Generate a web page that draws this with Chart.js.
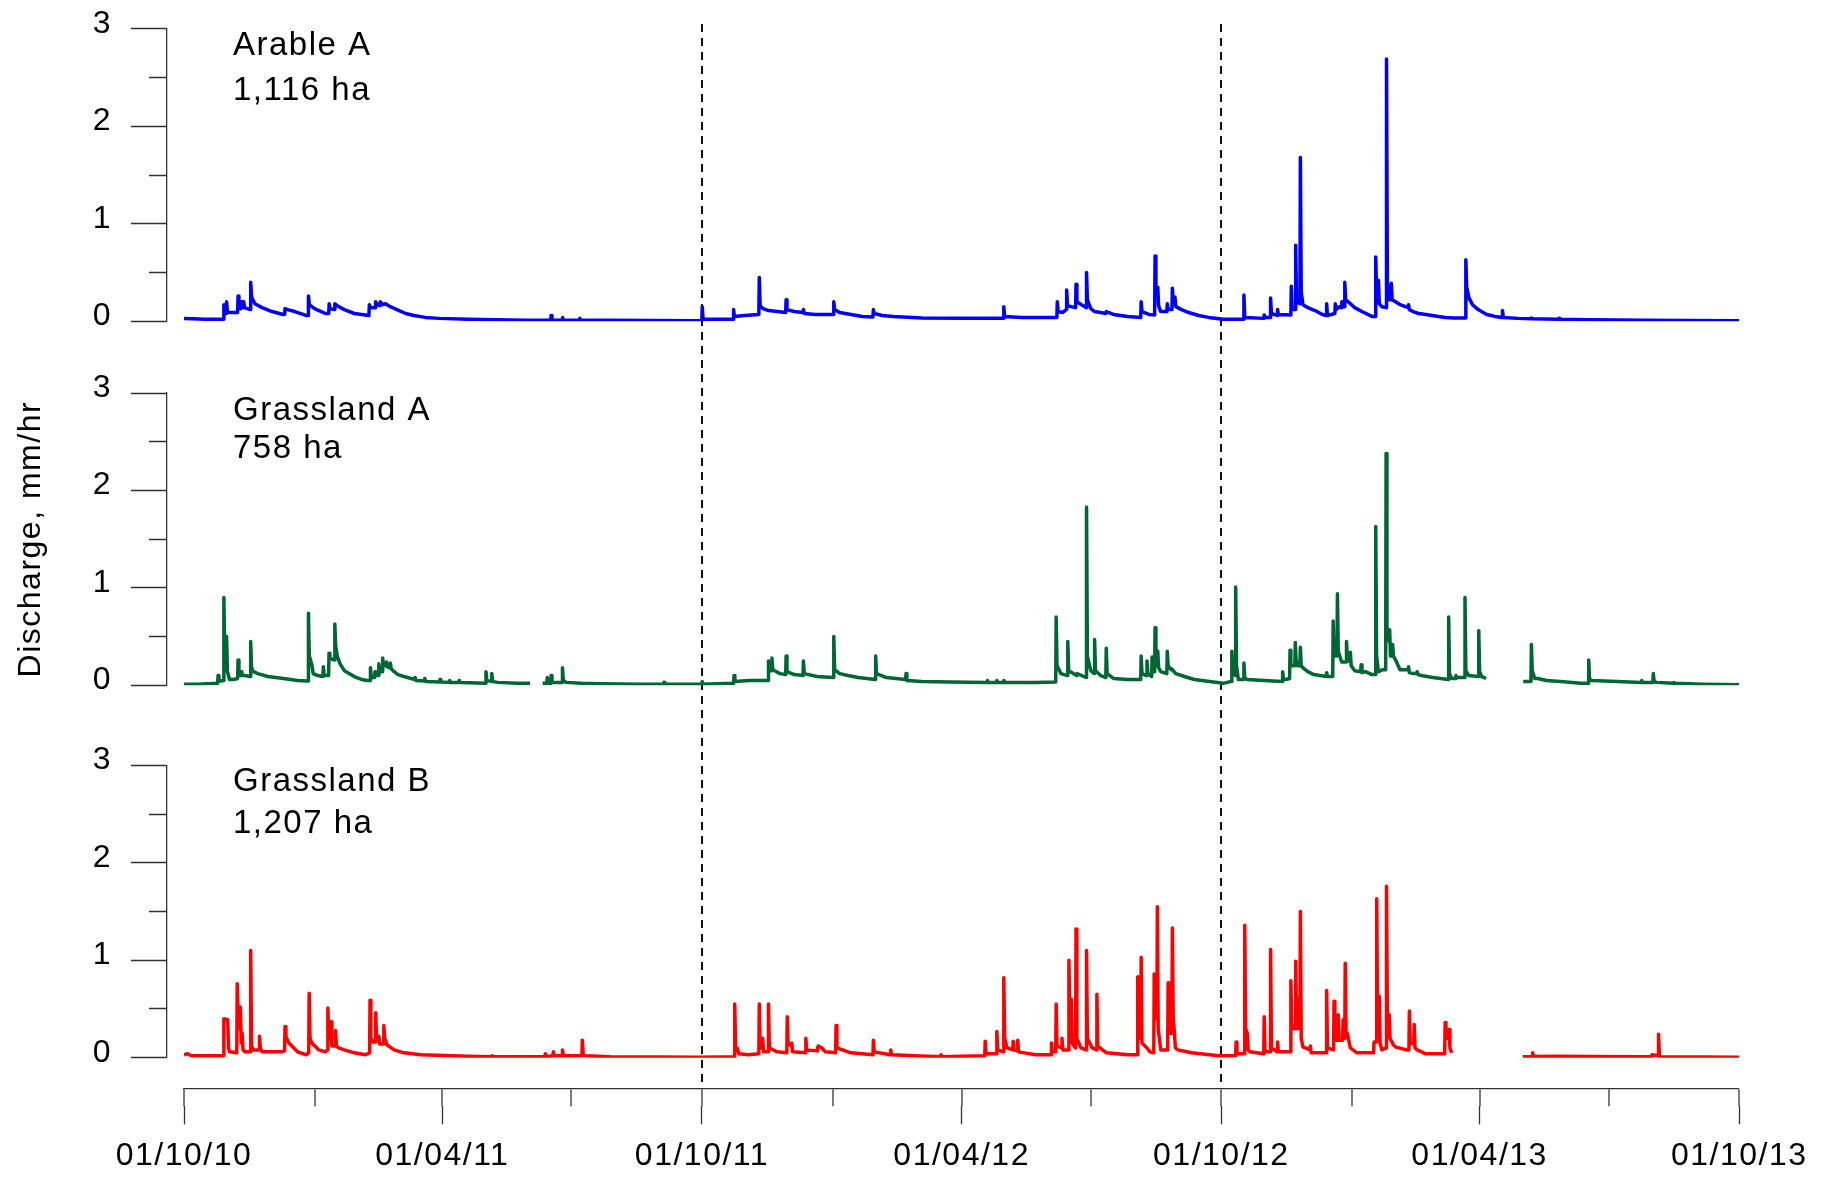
<!DOCTYPE html>
<html lang="en">
<head>
<meta charset="UTF-8">
<title>Catchment discharge 2010-2013</title>
<script src="https://cdn.jsdelivr.net/npm/chart.js"></script>
<style>
  html, body { margin: 0; padding: 0; background: #fff; }
  #wrap { position: relative; width: 1826px; height: 1178px; }
</style>
</head>
<body>
<div id="wrap"><canvas id="dischargeChart"></canvas></div>
<script>
// x values are days since 01/10/10 (start of the first hydrological year)
const tickDates = ['2010-10-01', '2011-01-01', '2011-04-01', '2011-07-01', '2011-10-01', '2012-01-01',
  '2012-04-01', '2012-07-01', '2012-10-01', '2013-01-01', '2013-04-01', '2013-07-01', '2013-10-01'];
const tickLabels = ['01/10/10', '', '01/04/11', '', '01/10/11', '', '01/04/12', '', '01/10/12', '', '01/04/13', '', '01/10/13'];
const yearBreaks = ['2011-10-01', '2012-10-01'];
const yTicks = [0, 0.5, 1, 1.5, 2, 2.5, 3];

const siteNames = ['Arable A', 'Grassland A', 'Grassland B'];
const siteAreas = ['1,116 ha', '758 ha', '1,207 ha'];

// [day, discharge mm/hr]; null marks a gap in the record
const arableA = [
  [0,0.03],[6,0.025],[15,0.02],[27.8,0.02],[28.1,0.17],[28.6,0.08],[29.7,0.08],[30,0.2],[30.6,0.1],[32.1,0.09],
  [37.8,0.09],[38.1,0.26],[38.7,0.14],[39.9,0.13],[40.2,0.2],[40.8,0.15],[41.8,0.14],[42.1,0.2],[42.7,0.14],
  [46.7,0.12],[47,0.4],[47.6,0.25],[50,0.18],[55,0.14],[62,0.1],[69.9,0.07],[70.9,0.07],[71.2,0.13],[73,0.12],
  [78,0.1],[86,0.06],[87.4,0.06],[87.7,0.26],[88.3,0.17],[92,0.13],[99.6,0.08],[102,0.08],[102.3,0.18],
  [103,0.13],[106,0.12],[106.3,0.18],[108,0.16],[113,0.12],[120,0.08],[130.3,0.06],[130.6,0.17],[131.5,0.14],
  [134.8,0.14],[135,0.2],[136,0.17],[138,0.16],[138.3,0.2],[140,0.17],[142,0.18],[145.4,0.15],[150,0.12],
  [156.2,0.08],[162,0.06],[170,0.04],[180,0.03],[200,0.02],[220,0.015],[240,0.012],[258.5,0.01],[258.7,0.06],
  [259.3,0.01],[266.6,0.01],[266.8,0.04],[267.4,0.01],[278.7,0.01],[278.9,0.03],[279.5,0.01],[300,0.01],
  [330,0.008],[364.9,0.005],[365.2,0.15],[365.8,0.02],[387,0.02],[387.3,0.12],[387.9,0.05],[395,0.06],
  [405.1,0.07],[405.4,0.45],[406,0.16],[408,0.13],[412,0.11],[418,0.1],[424,0.09],[424.3,0.22],[424.9,0.12],
  [430,0.1],[436.2,0.09],[436.5,0.12],[437.1,0.08],[445,0.07],[457.6,0.07],[457.9,0.2],[458.5,0.12],[462,0.09],
  [470,0.07],[478,0.05],[485.5,0.045],[485.8,0.12],[486.4,0.08],[492,0.06],[500,0.05],[520,0.035],[550,0.03],
  [577.4,0.03],[577.7,0.15],[578.3,0.05],[590,0.04],[615.1,0.04],[615.4,0.2],[616,0.1],[619,0.09],[621.7,0.12],
  [622,0.32],[622.6,0.16],[628.3,0.14],[628.6,0.38],[629.2,0.2],[635.7,0.14],[636,0.5],[636.6,0.22],[639,0.13],
  [641.7,0.1],[646,0.09],[649.6,0.08],[649.9,0.1],[655,0.07],[665,0.05],[674.2,0.04],[674.5,0.2],[675.1,0.1],
  [680,0.07],[684,0.065],[684.3,0.67],[684.9,0.3],[686,0.3],[686.2,0.35],[686.8,0.16],[688.3,0.1],[692.6,0.1],
  [692.9,0.18],[693.5,0.12],[696.2,0.12],[696.5,0.34],[697.1,0.2],[698,0.2],[698.3,0.25],[698.9,0.15],
  [703,0.12],[708,0.09],[715,0.06],[722,0.04],[732.3,0.02],[746.6,0.02],[746.9,0.27],[747.5,0.04],[761,0.03],
  [761.2,0.065],[762,0.04],[765.4,0.04],[765.7,0.24],[766.3,0.08],[770.3,0.06],[770.6,0.12],[771.2,0.07],
  [780,0.065],[780.3,0.36],[780.9,0.12],[783.1,0.12],[783.4,0.78],[784,0.2],[786.4,0.18],[786.7,1.68],
  [787.3,0.3],[788.5,0.17],[792,0.14],[797,0.11],[802.2,0.07],[804.9,0.06],[805.2,0.18],[805.8,0.06],
  [811,0.08],[811.3,0.18],[812,0.12],[814,0.15],[815.6,0.14],[815.9,0.2],[816.5,0.15],[817.7,0.15],[818,0.4],
  [818.6,0.22],[820.4,0.2],[825,0.14],[830,0.1],[837.1,0.05],[839.5,0.05],[839.8,0.66],[840.4,0.3],
  [841.4,0.2],[841.7,0.42],[842.3,0.18],[844.1,0.15],[847.1,0.14],[847.4,2.69],[848,0.4],[849.3,0.22],
  [850.5,0.22],[850.8,0.39],[851.4,0.22],[853.8,0.2],[857,0.17],[862.6,0.14],[862.9,0.17],[863.5,0.12],
  [866,0.1],[870,0.08],[875,0.07],[888.7,0.04],[895,0.035],[903,0.035],[903.3,0.63],[903.9,0.35],[905.5,0.24],
  [908,0.17],[912,0.12],[918,0.07],[923.7,0.05],[928.8,0.04],[929.1,0.11],[929.7,0.04],[940,0.03],
  [949.3,0.025],[949.5,0.035],[950,0.025],[968.8,0.02],[969,0.03],[969.5,0.02],[990,0.015],[1030,0.01],
  [1060,0.008],[1096,0.005]
];

const grasslandA = [
  [0,0.01],[10,0.012],[23.7,0.02],[24,0.1],[24.6,0.04],[27.8,0.05],[28.1,0.9],[28.7,0.3],[29.7,0.3],[30,0.5],
  [30.6,0.14],[32.1,0.06],[35,0.06],[37.8,0.07],[38.1,0.26],[38.7,0.12],[39.9,0.1],[40.2,0.14],[40.8,0.1],
  [42.9,0.1],[46.7,0.09],[47,0.45],[47.6,0.18],[48.9,0.14],[52,0.12],[59.1,0.09],[70,0.07],[80,0.05],
  [87.4,0.045],[87.7,0.74],[88.3,0.3],[90.1,0.21],[91,0.12],[94.2,0.1],[97.9,0.09],[98.2,0.19],[98.8,0.1],
  [101.9,0.1],[102.2,0.33],[102.8,0.28],[104,0.27],[106,0.26],[106.3,0.63],[106.9,0.4],[108,0.3],[110,0.22],
  [113,0.15],[120,0.09],[125,0.06],[129.2,0.05],[131.1,0.05],[131.4,0.18],[132,0.08],[134.3,0.08],[134.6,0.14],
  [135.2,0.1],[137,0.1],[137.3,0.22],[137.9,0.14],[139.7,0.14],[140,0.28],[140.6,0.2],[142.4,0.2],[142.7,0.24],
  [143.3,0.19],[145.1,0.18],[145.4,0.23],[146,0.17],[148.1,0.14],[150.8,0.11],[155,0.09],[162.6,0.06],
  [162.9,0.08],[163.5,0.05],[169.4,0.045],[169.7,0.07],[170.3,0.04],[180.1,0.035],[180.4,0.06],[181,0.035],
  [186.9,0.03],[187.2,0.05],[187.8,0.03],[193.7,0.03],[194,0.05],[194.6,0.03],[212.5,0.02],[212.8,0.14],
  [213.4,0.05],[216.6,0.04],[216.9,0.12],[217.5,0.04],[220.9,0.03],[235,0.02],[243.8,0.02],[248,null],
  [252.7,0.02],[255.7,0.02],[256,0.08],[256.6,0.02],[258.4,0.02],[258.7,0.1],[259.3,0.03],[266.4,0.03],
  [266.7,0.18],[267.3,0.05],[269.4,0.03],[280,0.02],[293,0.015],[320,0.012],[338,0.012],[338.3,0.03],
  [338.9,0.01],[364.9,0.01],[365.2,0.04],[365.8,0.01],[387.3,0.02],[387.6,0.1],[388.2,0.04],[398,0.05],
  [411.6,0.05],[411.9,0.25],[412.5,0.15],[414,0.15],[414.3,0.28],[414.9,0.16],[420,0.12],[424,0.11],
  [424.3,0.3],[424.9,0.14],[430,0.11],[436.2,0.1],[436.5,0.25],[437.1,0.12],[446,0.09],[457.6,0.08],
  [457.9,0.5],[458.5,0.16],[462,0.12],[468,0.1],[475,0.08],[487.1,0.06],[487.4,0.3],[488,0.12],[495,0.08],
  [508.5,0.06],[508.8,0.12],[509.4,0.05],[520,0.04],[540,0.035],[566,0.03],[566.2,0.05],[566.8,0.03],
  [572.6,0.03],[572.8,0.05],[573.4,0.03],[577.5,0.03],[577.7,0.05],[578.3,0.03],[600,0.03],[614.3,0.035],
  [614.6,0.7],[615.2,0.2],[618,0.12],[622.5,0.1],[622.8,0.45],[623.4,0.15],[629.1,0.1],[629.4,0.12],
  [635.7,0.08],[636,1.83],[636.6,0.3],[639,0.15],[641.4,0.12],[641.7,0.47],[642.3,0.15],[646,0.1],
  [649.6,0.08],[649.9,0.38],[650.5,0.12],[655,0.07],[665,0.06],[674.2,0.06],[674.5,0.3],[675.1,0.12],
  [678.3,0.1],[678.6,0.25],[679.2,0.12],[681.9,0.09],[682.2,0.29],[682.8,0.15],[684,0.14],[684.3,0.59],
  [684.9,0.2],[685.9,0.2],[686.2,0.35],[686.8,0.18],[688.3,0.14],[692.6,0.12],[692.9,0.35],[693.5,0.2],
  [695.6,0.16],[695.9,0.17],[698.9,0.12],[705,0.09],[712,0.06],[720,0.045],[732.3,0.02],[738.1,0.04],
  [738.4,0.35],[739,0.15],[740.8,0.1],[741.1,1.01],[741.7,0.2],[743,0.06],[746.6,0.06],[746.9,0.23],
  [747.5,0.08],[749,0.06],[761.2,0.05],[773.9,0.04],[774.2,0.14],[774.8,0.06],[776.4,0.06],[779.1,0.07],
  [779.4,0.36],[780,0.2],[782.8,0.2],[783.1,0.44],[783.7,0.25],[784.6,0.2],[784.9,0.24],[786.4,0.2],
  [786.7,0.39],[787.3,0.2],[788.5,0.18],[792,0.14],[796.1,0.11],[805,0.09],[805.2,0.13],[805.8,0.09],
  [809.5,0.09],[809.8,0.66],[810.4,0.3],[812.5,0.3],[812.8,0.94],[813.4,0.35],[815.8,0.24],[818.9,0.24],
  [819.2,0.45],[819.8,0.25],[821.6,0.25],[821.9,0.34],[822.5,0.2],[825,0.15],[829.2,0.14],[829.5,0.21],
  [830.1,0.13],[832.6,0.14],[837.1,0.11],[839.5,0.11],[839.8,1.63],[840.4,0.3],[841.7,0.14],[844.7,0.16],
  [846.8,0.16],[847.1,2.38],[847.7,0.6],[849.3,0.45],[849.6,0.57],[850.2,0.3],[851.4,0.3],[851.7,0.42],
  [852.3,0.3],[853.8,0.26],[856.9,0.16],[862.6,0.16],[862.9,0.19],[863.5,0.13],[866,0.12],[868.7,0.12],
  [869,0.14],[869.6,0.11],[872,0.1],[880,0.08],[890.9,0.06],[891.2,0.7],[891.8,0.12],[893.3,0.07],[896,0.07],
  [896.3,0.1],[896.9,0.08],[902.4,0.08],[902.7,0.9],[903.3,0.15],[905.4,0.1],[912.1,0.09],[912.4,0.56],
  [913,0.14],[914.5,0.09],[917.6,0.07],[930,null],[943.7,0.04],[949.2,0.04],[949.5,0.42],[950.1,0.15],
  [951.9,0.07],[954,0.07],[960,0.05],[970,0.04],[984.4,0.02],[989.6,0.02],[989.9,0.26],[990.5,0.06],
  [992,0.05],[1010,0.04],[1026.9,0.03],[1027.2,0.05],[1027.8,0.03],[1035.1,0.03],[1035.4,0.12],[1036,0.04],
  [1037.5,0.03],[1049.7,0.02],[1049.9,0.03],[1050.5,0.02],[1070,0.01],[1096,0.005]
];

const grasslandB = [
  [0,0.03],[2.5,0.04],[5.2,0.02],[27.8,0.02],[28.1,0.4],[30.8,0.39],[31.4,0.1],[32.1,0.06],[37.2,0.05],
  [37.5,0.76],[38.1,0.45],[39.4,0.3],[39.7,0.52],[40.3,0.15],[40.7,0.15],[41,0.25],[41.6,0.08],[42.9,0.06],
  [46.7,0.06],[47,1.1],[47.6,0.12],[48.9,0.08],[52.9,0.08],[53.2,0.22],[53.8,0.1],[55.1,0.06],[68.5,0.06],
  [70.9,0.07],[71.2,0.32],[71.8,0.22],[73.9,0.15],[80,0.06],[86.1,0.03],[87.9,0.05],[88.2,0.66],[88.8,0.2],
  [90.1,0.15],[95,0.08],[99.5,0.06],[101.1,0.08],[101.4,0.51],[102,0.2],[103.3,0.2],[103.6,0.37],[104.2,0.12],
  [106.5,0.12],[106.8,0.28],[107.4,0.12],[109,0.1],[113,0.08],[120,0.05],[127.9,0.03],[130.8,0.05],
  [131.1,0.59],[131.7,0.2],[133.3,0.16],[134.8,0.16],[135.1,0.46],[135.7,0.2],[137,0.2],[137.3,0.22],
  [137.9,0.14],[140.5,0.14],[140.8,0.33],[141.4,0.2],[143.2,0.13],[148.1,0.08],[155,0.05],[167,0.03],
  [200,0.015],[216.9,0.01],[217.3,0.02],[217.9,0.01],[254.3,0.01],[254.6,0.04],[255.2,0.01],[260,0.02],
  [260.3,0.06],[260.9,0.02],[266.4,0.02],[266.7,0.08],[267.3,0.02],[280.4,0.02],[280.7,0.18],[281.3,0.03],
  [282.9,0.02],[300,0.01],[364,0.005],[387.8,0.01],[388.1,0.55],[388.7,0.1],[389.8,0.1],[391,0.04],
  [398,0.03],[405.1,0.04],[405.4,0.55],[406,0.1],[407.5,0.1],[407.8,0.2],[408.4,0.06],[411.6,0.06],
  [411.9,0.55],[412.5,0.1],[418,0.06],[424.8,0.05],[425.1,0.42],[425.7,0.15],[428,0.12],[428.3,0.15],
  [428.9,0.06],[437.9,0.05],[438.2,0.2],[438.8,0.08],[446.1,0.07],[446.4,0.1],[447,0.12],[449.5,0.1],
  [452,0.06],[459.2,0.05],[459.5,0.33],[460.1,0.1],[470,0.05],[485.5,0.03],[485.8,0.18],[486.4,0.06],
  [497.7,0.03],[498,0.08],[498.6,0.03],[515,0.02],[533.2,0.01],[533.4,0.03],[534,0.01],[564.3,0.02],
  [564.6,0.17],[565.2,0.04],[572.5,0.04],[572.8,0.27],[573.4,0.08],[577.4,0.06],[577.7,0.82],[578.3,0.2],
  [580,0.1],[584,0.08],[584.3,0.17],[584.9,0.08],[587.2,0.07],[587.5,0.18],[588.1,0.06],[600,0.03],[611,0.03],
  [611.3,0.15],[611.9,0.06],[614.3,0.06],[614.6,0.55],[615.2,0.12],[618.4,0.1],[618.7,0.2],[619.3,0.08],
  [623.3,0.08],[623.6,1.0],[624.2,0.35],[625,0.35],[625.3,0.6],[625.9,0.15],[628.3,0.1],[628.6,1.32],
  [629.2,0.2],[632,0.1],[635.7,0.08],[636,1.1],[636.6,0.2],[640,0.1],[643,0.08],[643.3,0.65],[643.9,0.12],
  [650,0.05],[665,0.03],[671.8,0.03],[672.1,0.83],[672.7,0.2],[674.2,0.2],[674.5,1.03],[675.1,0.15],
  [678.6,0.1],[680.7,0.06],[683.4,0.05],[683.7,0.86],[684.3,0.4],[685.6,0.4],[685.9,1.55],[686.5,0.3],
  [688.3,0.08],[693.2,0.08],[693.5,0.77],[694.1,0.25],[696.2,0.25],[696.5,1.33],[697.1,0.4],[698,0.25],
  [698.6,0.1],[700.4,0.08],[710,0.05],[729.3,0.02],[741.1,0.02],[741.4,0.16],[742,0.04],[747.2,0.04],
  [747.5,1.36],[748.1,0.3],[749.3,0.25],[749.9,0.08],[751.1,0.06],[760.9,0.04],[761.2,0.42],[761.8,0.06],
  [765.4,0.06],[765.7,1.11],[766.3,0.1],[770.3,0.06],[770.6,0.16],[771.2,0.06],[779.7,0.06],[780,0.79],
  [780.6,0.35],[781.8,0.3],[783.1,0.3],[783.4,0.99],[784,0.3],[784.6,0.3],[784.9,0.61],[785.5,0.3],
  [786.4,0.3],[786.7,1.5],[787.3,0.2],[788.5,0.11],[793.4,0.08],[793.7,0.12],[794.3,0.05],[804.9,0.05],
  [805.2,0.69],[805.8,0.1],[810.1,0.08],[810.4,0.58],[811,0.18],[813.1,0.18],[813.4,0.44],[814,0.18],
  [816.5,0.18],[816.8,0.39],[817.4,0.2],[818,0.2],[818.3,0.97],[818.9,0.25],[819.8,0.25],[821.9,0.1],
  [826.5,0.05],[838.3,0.05],[838.6,0.16],[840.2,0.16],[840.5,1.63],[841.1,0.3],[842,0.3],[842.3,0.63],
  [842.9,0.15],[844.1,0.08],[847.1,0.1],[847.4,1.76],[848,0.4],[849,0.35],[849.3,0.44],[849.9,0.2],
  [852.3,0.13],[853.8,0.11],[861.4,0.08],[863.2,0.08],[863.5,0.48],[864.1,0.15],[866.6,0.14],[866.9,0.34],
  [867.5,0.1],[869,0.08],[875.1,0.04],[888.4,0.04],[888.7,0.36],[889.3,0.2],[891.2,0.2],[891.5,0.29],
  [892.1,0.1],[893.3,0.05],[918,null],[943.4,0.01],[950.1,0.012],[950.4,0.05],[951,0.012],[969.2,0.015],
  [989,0.012],[1034.3,0.01],[1034.5,0.03],[1038.8,0.02],[1039.1,0.24],[1039.7,0.01],[1096,0.005]
];

const dayOf = (s) => (Date.parse(s) - Date.parse('2010-10-01')) / 86400000;
const tickDays = tickDates.map(dayOf);
const majorDays = tickDays.filter((d, i) => tickLabels[i] !== '');
const majorLabels = tickLabels.filter((t) => t !== '');
const breakDays = yearBreaks.map(dayOf);
const lastDay = tickDays[tickDays.length - 1];
const toPoints = (rows) => rows.map(([d, q]) => ({ x: d, y: q }));

Chart.defaults.font.family = '"Liberation Sans", Arial, sans-serif';
Chart.defaults.color = '#000';

const AXIS_COLOR = '#333';
const Y_AXIS_WIDTH = 167;
const MINOR_TICK = 18;          // every time tick; the major ones get a second 18px piece below
const LABEL_BAND = 71.7;        // major tick extension + date labels

// fixed axis sizes, and no label overhang pushing the plot area inwards
function fixWidth(s) { s.width = Y_AXIS_WIDTH; s.paddingTop = 0; s.paddingBottom = 0; }
const fixHeight = (h) => (s) => { s.height = h; s.paddingLeft = 0; s.paddingRight = 0; };

const isMinor = (c) => c.tick !== undefined && c.index % 2 === 1;

// one y axis per site, stacked down the left edge
function siteAxis(weight, stackWeight, extra) {
  return Object.assign({
    type: 'linear', axis: 'y', position: 'left',
    stack: 'sites', stackWeight: stackWeight, weight: weight,
    min: 0, max: 3,
    afterBuildTicks: (s) => { s.ticks = yTicks.map(v => ({ value: v })); },
    afterFit: fixWidth,
    ticks: {
      autoSkip: false, padding: 19, labelOffset: -5, font: { size: 32 },
      callback: (v) => Number.isInteger(v) ? String(v) : ''
    },
    grid: {
      drawOnChartArea: false, tickLength: 36, tickColor: AXIS_COLOR, tickWidth: 1.3,
      // tick marks run from the outer end towards the axis line: keep the inner half
      tickBorderDash: (c) => isMinor(c) ? [0, 18, 40] : []
    },
    border: { display: true, color: AXIS_COLOR, width: 1.3 }
  }, extra || {});
}

// empty axes that only take up room: gaps between panels and left of the time axis
function blankAxis(axis, position, stack, weight, stackWeight, height) {
  return {
    type: 'linear', axis: axis, position: position, stack: stack, stackWeight: stackWeight, weight: weight,
    min: 0, max: 1,
    afterFit: axis === 'y' ? fixWidth : fixHeight(height),
    ticks: { display: false }, grid: { display: false }, border: { display: false }
  };
}

const isBreak = (c) => c.tick !== undefined && breakDays.includes(c.tick.value);

// site names and areas in the top-left corner of each panel
const labelBaselines = [[26.3, 71.3], [27, 65.3], [25.4, 68]];
const panelLabels = {
  id: 'panelLabels',
  afterDraw(chart) {
    const ctx = chart.ctx;
    const x = chart.scales.x.getPixelForValue(0) + 49;
    ctx.save();
    ctx.font = '33px "Liberation Sans", Arial, sans-serif';
    ctx.fillStyle = '#000';
    ctx.textAlign = 'left';
    ctx.textBaseline = 'alphabetic';
    ['y1', 'y2', 'y3'].forEach((id, i) => {
      const top = chart.scales[id].top;
      ctx.fillText(siteNames[i], x, top + labelBaselines[i][0]);
      ctx.fillText(siteAreas[i], x, top + labelBaselines[i][1]);
    });
    ctx.restore();
  }
};

// slightly wider character spacing for all text
const textSpacing = {
  id: 'textSpacing',
  beforeDraw(chart) { chart.ctx.letterSpacing = '1.5px'; }
};

const lineStyle = (color) => ({
  borderColor: color, borderWidth: 3.5, pointRadius: 0, tension: 0,
  spanGaps: false, borderJoinStyle: 'round', xAxisID: 'x'
});

new Chart(document.getElementById('dischargeChart'), {
  type: 'line',
  data: {
    datasets: [
      Object.assign({ label: siteNames[0], data: toPoints(arableA), yAxisID: 'y1' }, lineStyle('#0000ff')),
      Object.assign({ label: siteNames[1], data: toPoints(grasslandA), yAxisID: 'y2' }, lineStyle('#006633')),
      Object.assign({ label: siteNames[2], data: toPoints(grasslandB), yAxisID: 'y3' }, lineStyle('#ff0000'))
    ]
  },
  options: {
    responsive: true,
    maintainAspectRatio: false,
    devicePixelRatio: 1,
    animation: false,
    events: [],
    layout: { padding: { left: 0, top: 24, right: 86.7, bottom: 0 } },
    plugins: { legend: { display: false }, tooltip: { enabled: false } },
    scales: {
      yTop: blankAxis('y', 'left', 'sites', 7, 4.7),
      y1: siteAxis(6, 292.6),
      yGap1: blankAxis('y', 'left', 'sites', 5, 71.7),
      y2: siteAxis(4, 292.3, {
        title: { display: true, text: 'Discharge, mm/hr', font: { size: 32 }, padding: { top: 12, bottom: 0 } }
      }),
      yGap2: blankAxis('y', 'left', 'sites', 3, 80),
      y3: siteAxis(2, 292.4),
      yGap3: blankAxis('y', 'left', 'sites', 1, 30.6),

      // time axis: axis line, short ticks at every quarter and the dashed year breaks
      xGap: blankAxis('x', 'bottom', 'time', 0, 17, MINOR_TICK),
      x: {
        type: 'linear', axis: 'x', position: 'bottom', stack: 'time', stackWeight: 1555.3, weight: 1,
        min: 0, max: lastDay,
        afterBuildTicks: (s) => { s.ticks = tickDays.map(v => ({ value: v })); },
        afterFit: fixHeight(MINOR_TICK),
        ticks: { display: false, autoSkip: false },
        grid: {
          drawOnChartArea: true, tickLength: MINOR_TICK,
          color: (c) => isBreak(c) ? '#111' : 'rgba(0,0,0,0)',
          lineWidth: (c) => isBreak(c) ? 2 : 0,
          tickColor: AXIS_COLOR, tickWidth: 1.3
        },
        border: { display: true, color: AXIS_COLOR, width: 1.3, dash: (c) => isBreak(c) ? [8, 6] : [] }
      },

      // second band under it: rest of the long ticks and the date labels
      xLabelGap: blankAxis('x', 'bottom', 'timeLabels', 2, 17, LABEL_BAND),
      xLabels: {
        type: 'linear', axis: 'x', position: 'bottom', stack: 'timeLabels', stackWeight: 1555.3, weight: 3,
        min: 0, max: lastDay,
        afterBuildTicks: (s) => { s.ticks = majorDays.map(v => ({ value: v })); },
        afterFit: fixHeight(LABEL_BAND),
        ticks: {
          autoSkip: false, maxRotation: 0, minRotation: 0, padding: 12.5, font: { size: 32 },
          callback: (v, i) => majorLabels[i]
        },
        grid: { drawOnChartArea: false, tickLength: MINOR_TICK, tickColor: AXIS_COLOR, tickWidth: 1.3 },
        border: { display: false }
      }
    }
  },
  plugins: [textSpacing, panelLabels]
});
</script>
</body>
</html>
